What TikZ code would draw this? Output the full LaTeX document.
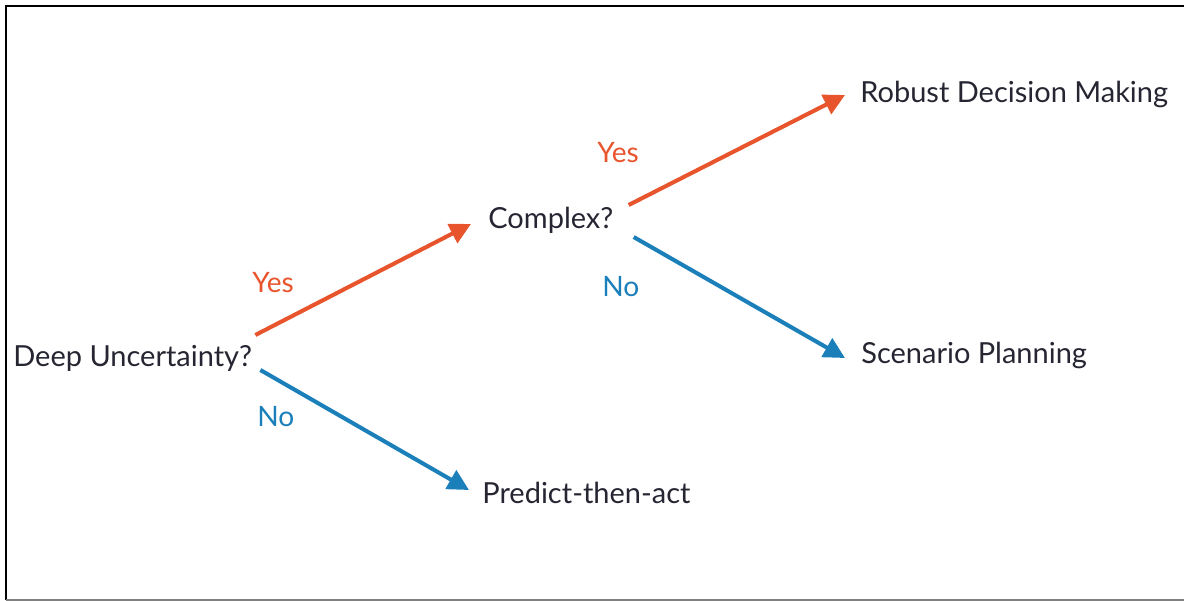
\documentclass[tikz,border=0pt]{standalone}
\usepackage{fontspec}
\setmainfont{Lato}
\usepackage{xcolor}
\usetikzlibrary{arrows.meta, positioning}

\definecolor{yescol}{HTML}{E8542C}
\definecolor{nocol}{HTML}{1B7FBA}
\definecolor{txtcol}{HTML}{262633}

\tikzset{
  choice/.style={inner sep=0pt, anchor=base west, text=txtcol, font=\fontsize{16.5}{19}\selectfont},
  yeslbl/.style={inner sep=0pt, anchor=base west, text=yescol, font=\fontsize{16}{19}\selectfont},
  nolbl/.style={inner sep=0pt, anchor=base west, text=nocol, font=\fontsize{16}{19}\selectfont},
  yesarrow/.style={draw=yescol, line width=2.3pt, -{Triangle[length=0.42cm, width=0.42cm]}},
  noarrow/.style={draw=nocol, line width=2.3pt, -{Triangle[length=0.42cm, width=0.42cm]}}
}

\begin{document}
\begin{tikzpicture}[x=0.02cm, y=-0.02cm]
  \useasboundingbox (0,0) rectangle (1184,601);
  % Frame
  \draw[line width=1.6pt] (6,600) -- (6,6) -- (1184,6);
  \draw[gray, line width=0.8pt] (6,600) -- (1184,600);

  % Questions and outcomes
  \node[choice] (deep) at (13,367) {Deep Uncertainty?};
  \node[choice] (complex) at (488,229) {Complex?};
  \node[choice] (robust) at (860,103) {Robust Decision Making};
  \node[choice] (scenario) at (861,363) {Scenario Planning};
  \node[choice] (predict) at (482,503) {Predict-then-act};

  % Branch labels
  \node[yeslbl] (yes1) at (252,293) {Yes};
  \node[nolbl] (no1) at (257,426) {No};
  \node[yeslbl] (yes2) at (597,163) {Yes};
  \node[nolbl] (no2) at (602,297) {No};

  % Branches
  \draw[yesarrow] ([shift={(3,-32)}]deep.base east) -- ([shift={(-17,-5)}]complex.base west);
  \draw[noarrow] ([shift={(8,3)}]deep.base east) -- ([shift={(-13,-13)}]predict.base west);
  \draw[yesarrow] ([shift={(15,-24)}]complex.base east) -- ([shift={(-15,-8)}]robust.base west);
  \draw[noarrow] ([shift={(20,8)}]complex.base east) -- ([shift={(-16,-5)}]scenario.base west);
\end{tikzpicture}
\end{document}
